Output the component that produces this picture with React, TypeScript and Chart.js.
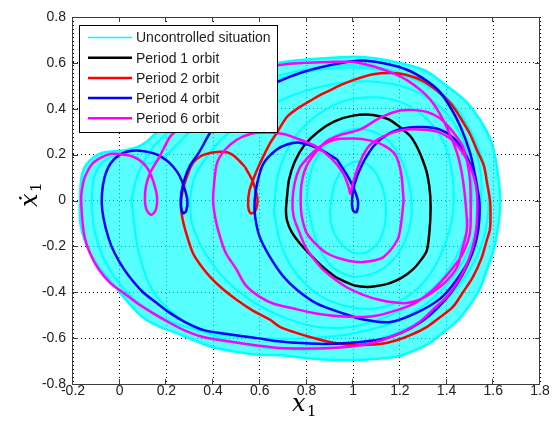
import React, { useEffect, useRef } from 'react';
import { Chart, registerables } from 'chart.js';

Chart.register(...registerables);

// ---- axis ticks ----
const xTickValues = [-0.2, 0, 0.2, 0.4, 0.6, 0.8, 1, 1.2, 1.4, 1.6, 1.8];
const yTickValues = [-0.8, -0.6, -0.4, -0.2, 0, 0.2, 0.4, 0.6, 0.8];

// ---- legend labels ----
const seriesLabels = ['Uncontrolled situation', 'Period 1 orbit', 'Period 2 orbit', 'Period 4 orbit', 'Period 6 orbit'];
const seriesColors = ['#00FFFF', '#000000', '#FF0000', '#0000FF', '#FF00FF'];

// ---- uncontrolled (chaotic) region: outer envelope ----
const chaosX = [-0.17, -0.168, -0.16, -0.14, -0.11, -0.07, -0.02, 0.03, 0.08, 0.12, 0.16, 0.22, 0.3, 0.4, 0.5, 0.6, 0.674, 0.8, 0.95, 1.05, 1.15, 1.3, 1.4, 1.49, 1.55, 1.59, 1.615, 1.63, 1.62, 1.6, 1.57, 1.54, 1.49, 1.44, 1.38, 1.33, 1.26, 1.19, 1.1, 1.02, 0.92, 0.83, 0.69, 0.59, 0.5, 0.4, 0.32, 0.245, 0.17, 0.1, 0.05, 0.0, -0.07, -0.11, -0.14, -0.16, -0.17, -0.17];
const chaosY = [0.0, 0.06, 0.12, 0.16, 0.19, 0.21, 0.215, 0.22, 0.235, 0.26, 0.3, 0.36, 0.42, 0.48, 0.54, 0.575, 0.6, 0.615, 0.625, 0.625, 0.61, 0.57, 0.5, 0.425, 0.34, 0.26, 0.15, 0.0, -0.12, -0.22, -0.31, -0.39, -0.47, -0.53, -0.58, -0.62, -0.655, -0.68, -0.69, -0.695, -0.695, -0.69, -0.675, -0.673, -0.66, -0.64, -0.61, -0.578, -0.55, -0.51, -0.46, -0.4, -0.315, -0.26, -0.2, -0.14, -0.085, 0.0];

// ---- uncontrolled trajectory: a few of its denser passes ----
const chaosLoop1X = [0.9, 0.92, 0.97, 1.03, 1.09, 1.13, 1.14, 1.12, 1.07, 1.01, 0.95, 0.91, 0.9];
const chaosLoop1Y = [-0.05, 0.07, 0.15, 0.17, 0.13, 0.04, -0.06, -0.16, -0.22, -0.23, -0.19, -0.12, -0.05];
const chaosLoop2X = [0.8, 0.82, 0.88, 0.96, 1.05, 1.14, 1.2, 1.24, 1.25, 1.22, 1.16, 1.08, 0.99, 0.9, 0.84, 0.8];
const chaosLoop2Y = [0.0, 0.13, 0.24, 0.3, 0.31, 0.27, 0.19, 0.07, -0.06, -0.18, -0.27, -0.32, -0.33, -0.28, -0.17, 0.0];
const chaosLoop3X = [0.66, 0.68, 0.74, 0.83, 0.95, 1.08, 1.2, 1.3, 1.38, 1.42, 1.43, 1.4, 1.33, 1.23, 1.1, 0.97, 0.85, 0.75, 0.69, 0.66];
const chaosLoop3Y = [-0.05, 0.12, 0.26, 0.36, 0.43, 0.45, 0.43, 0.37, 0.27, 0.14, -0.02, -0.17, -0.32, -0.42, -0.47, -0.46, -0.41, -0.31, -0.19, -0.05];
const chaosLoop4X = [0.05, 0.08, 0.15, 0.25, 0.4, 0.55, 0.7, 0.85, 1.0, 1.15, 1.3, 1.42, 1.5, 1.56, 1.58, 1.56, 1.5, 1.4, 1.28, 1.12, 0.95, 0.75, 0.55, 0.38, 0.24, 0.14, 0.08, 0.05];
const chaosLoop4Y = [0.0, 0.12, 0.24, 0.33, 0.43, 0.5, 0.55, 0.58, 0.59, 0.57, 0.52, 0.43, 0.31, 0.16, 0.0, -0.16, -0.3, -0.43, -0.53, -0.6, -0.64, -0.65, -0.63, -0.58, -0.5, -0.39, -0.22, 0.0];
const chaosLoop5X = [-0.12, -0.11, -0.07, 0.0, 0.07, 0.12, 0.2, 0.3, 0.45, 0.6, 0.8, 1.0, 1.2, 1.35, 1.45, 1.52, 1.55, 1.52, 1.45, 1.35, 1.2, 1.0, 0.8, 0.6, 0.4, 0.2, 0.05, -0.06, -0.11, -0.12];
const chaosLoop5Y = [0.0, 0.1, 0.17, 0.2, 0.19, 0.16, 0.2, 0.3, 0.42, 0.5, 0.56, 0.58, 0.55, 0.48, 0.38, 0.24, 0.05, -0.15, -0.3, -0.42, -0.52, -0.58, -0.6, -0.6, -0.58, -0.52, -0.42, -0.27, -0.12, 0.0];
const chaosLoop6X = [0.3, 0.32, 0.38, 0.46, 0.58, 0.72, 0.88, 1.04, 1.2, 1.33, 1.43, 1.49, 1.51, 1.48, 1.41, 1.3, 1.16, 1.0, 0.84, 0.68, 0.54, 0.43, 0.35, 0.31, 0.3];
const chaosLoop6Y = [0.0, 0.1, 0.2, 0.29, 0.38, 0.45, 0.5, 0.52, 0.5, 0.44, 0.34, 0.2, 0.02, -0.15, -0.3, -0.42, -0.5, -0.55, -0.55, -0.5, -0.42, -0.32, -0.2, -0.1, 0.0];

// ---- period 1 orbit ----
const period1X = [0.715, 0.725, 0.75, 0.79, 0.85, 0.92, 1.0, 1.085, 1.15, 1.2, 1.245, 1.275, 1.3, 1.318, 1.33, 1.33, 1.316, 1.29, 1.256, 1.21, 1.157, 1.1, 1.06, 1.01, 0.97, 0.92, 0.87, 0.82, 0.77, 0.735, 0.716, 0.712, 0.715];
const period1Y = [0.0, 0.09, 0.17, 0.24, 0.3, 0.345, 0.37, 0.373, 0.355, 0.32, 0.28, 0.23, 0.17, 0.11, 0.02, -0.085, -0.216, -0.26, -0.3, -0.335, -0.36, -0.373, -0.377, -0.372, -0.356, -0.33, -0.29, -0.24, -0.185, -0.135, -0.085, -0.04, 0.0];

// ---- period 2 orbit ----
const period2X = [0.537, 0.567, 0.586, 0.59, 0.578, 0.56, 0.55, 0.555, 0.575, 0.6, 0.644, 0.67, 0.716, 0.76, 0.8, 0.85, 0.9, 0.95, 1.0, 1.085, 1.16, 1.23, 1.3, 1.37, 1.42, 1.457, 1.5, 1.53, 1.56, 1.573, 1.586, 1.588, 1.585, 1.573, 1.55, 1.513, 1.47, 1.427, 1.37, 1.316, 1.25, 1.19, 1.12, 1.04, 0.97, 0.9, 0.815, 0.75, 0.686, 0.644, 0.57, 0.502, 0.44, 0.387, 0.345, 0.314, 0.29, 0.27, 0.262, 0.27, 0.29, 0.314, 0.35, 0.387, 0.43, 0.46, 0.485, 0.515, 0.537];
const period2Y = [0.146, 0.09, 0.03, -0.01, -0.05, -0.055, -0.02, 0.04, 0.1, 0.16, 0.25, 0.29, 0.364, 0.4, 0.425, 0.455, 0.48, 0.505, 0.525, 0.55, 0.556, 0.547, 0.52, 0.47, 0.42, 0.364, 0.29, 0.22, 0.15, 0.077, 0.0, -0.085, -0.13, -0.17, -0.25, -0.333, -0.4, -0.464, -0.51, -0.551, -0.585, -0.608, -0.625, -0.63, -0.628, -0.617, -0.595, -0.575, -0.551, -0.52, -0.48, -0.434, -0.385, -0.333, -0.28, -0.23, -0.16, -0.085, -0.02, 0.045, 0.11, 0.164, 0.195, 0.207, 0.212, 0.21, 0.198, 0.17, 0.146];

// ---- period 4 orbit ----
const period4X = [0.93, 0.985, 1.02, 1.015, 1.0, 0.995, 1.005, 1.04, 1.09, 1.15, 1.22, 1.3, 1.37, 1.427, 1.47, 1.5, 1.525, 1.54, 1.54, 1.53, 1.51, 1.47, 1.42, 1.36, 1.29, 1.21, 1.12, 0.99, 0.85, 0.69, 0.59, 0.46, 0.36, 0.28, 0.215, 0.15, 0.1, 0.04, 0.0, -0.035, -0.06, -0.075, -0.076, -0.065, -0.04, 0.0, 0.04, 0.074, 0.12, 0.16, 0.2, 0.23, 0.255, 0.275, 0.29, 0.285, 0.272, 0.262, 0.265, 0.28, 0.3, 0.34, 0.395, 0.47, 0.57, 0.674, 0.785, 0.9, 1.03, 1.13, 1.23, 1.31, 1.37, 1.42, 1.46, 1.5, 1.52, 1.535, 1.535, 1.525, 1.5, 1.44, 1.37, 1.27, 1.16, 1.05, 0.95, 0.845, 0.76, 0.7, 0.64, 0.6, 0.58, 0.578, 0.59, 0.615, 0.67, 0.72, 0.77, 0.845, 0.93];
const period4Y = [0.18, 0.09, 0.0, -0.05, -0.045, 0.0, 0.07, 0.16, 0.24, 0.29, 0.315, 0.32, 0.31, 0.275, 0.22, 0.16, 0.08, 0.0, -0.085, -0.16, -0.23, -0.32, -0.4, -0.47, -0.53, -0.575, -0.605, -0.62, -0.625, -0.615, -0.6, -0.582, -0.565, -0.53, -0.49, -0.44, -0.4, -0.33, -0.27, -0.2, -0.12, -0.04, 0.03, 0.1, 0.16, 0.2, 0.215, 0.218, 0.212, 0.2, 0.175, 0.146, 0.11, 0.06, 0.0, -0.045, -0.055, -0.02, 0.04, 0.1, 0.15, 0.21, 0.307, 0.39, 0.46, 0.516, 0.56, 0.59, 0.61, 0.598, 0.57, 0.525, 0.475, 0.4, 0.32, 0.21, 0.12, 0.03, -0.07, -0.15, -0.25, -0.35, -0.43, -0.49, -0.53, -0.52, -0.49, -0.45, -0.39, -0.33, -0.24, -0.16, -0.07, 0.0, 0.08, 0.16, 0.22, 0.245, 0.252, 0.23, 0.18];

// ---- period 6 orbit ----
const period6X = [1.216, 1.205, 1.19, 1.13, 1.07, 1.016, 0.95, 0.888, 0.84, 0.8, 0.78, 0.775, 0.78, 0.8, 0.84, 0.888, 0.943, 1.03, 1.115, 1.2, 1.26, 1.316, 1.37, 1.41, 1.445, 1.47, 1.49, 1.5, 1.503, 1.5, 1.47, 1.43, 1.38, 1.33, 1.26, 1.19, 1.11, 1.04, 0.94, 0.83, 0.74, 0.66, 0.6, 0.54, 0.5, 0.455, 0.43, 0.41, 0.4, 0.405, 0.417, 0.45, 0.5, 0.56, 0.63, 0.7, 0.76, 0.845, 0.91, 0.956, 0.98, 0.988, 1.0, 1.03, 1.07, 1.13, 1.2, 1.28, 1.36, 1.427, 1.48, 1.515, 1.53, 1.53, 1.52, 1.49, 1.45, 1.4, 1.34, 1.29, 1.23, 1.16, 1.085, 1.0, 0.9, 0.8, 0.686, 0.588, 0.47, 0.357, 0.28, 0.215, 0.14, 0.074, 0.02, -0.04, -0.09, -0.127, -0.15, -0.16, -0.165, -0.158, -0.15, -0.125, -0.097, -0.04, 0.03, 0.07, 0.1, 0.125, 0.145, 0.16, 0.155, 0.135, 0.115, 0.108, 0.112, 0.13, 0.17, 0.215, 0.245, 0.32, 0.42, 0.53, 0.6, 0.674, 0.785, 0.9, 1.0, 1.085, 1.17, 1.23, 1.29, 1.33, 1.37, 1.4, 1.445, 1.47, 1.487, 1.485, 1.465, 1.445, 1.4, 1.34, 1.29, 1.23, 1.18, 1.115, 1.04, 0.97, 0.91, 0.86, 0.8, 0.77, 0.745, 0.74, 0.75, 0.77, 0.8, 0.85, 0.92, 1.0, 1.07, 1.13, 1.18, 1.205, 1.216];
const period6Y = [0.0, -0.1, -0.17, -0.246, -0.265, -0.268, -0.255, -0.23, -0.19, -0.14, -0.07, 0.0, 0.08, 0.15, 0.21, 0.26, 0.285, 0.31, 0.36, 0.392, 0.394, 0.386, 0.36, 0.32, 0.275, 0.233, 0.16, 0.09, 0.0, -0.14, -0.23, -0.29, -0.35, -0.4, -0.45, -0.477, -0.5, -0.508, -0.505, -0.49, -0.47, -0.45, -0.42, -0.37, -0.3, -0.23, -0.16, -0.08, 0.0, 0.08, 0.164, 0.22, 0.264, 0.29, 0.296, 0.29, 0.27, 0.233, 0.18, 0.12, 0.06, 0.03, 0.08, 0.17, 0.24, 0.28, 0.305, 0.31, 0.3, 0.26, 0.19, 0.11, 0.03, -0.085, -0.17, -0.27, -0.35, -0.42, -0.477, -0.525, -0.564, -0.595, -0.62, -0.635, -0.643, -0.645, -0.643, -0.632, -0.615, -0.595, -0.567, -0.534, -0.49, -0.447, -0.405, -0.36, -0.3, -0.23, -0.16, -0.085, 0.015, 0.07, 0.1, 0.15, 0.177, 0.203, 0.198, 0.185, 0.163, 0.13, 0.08, 0.015, -0.04, -0.063, -0.04, 0.0, 0.06, 0.12, 0.19, 0.277, 0.307, 0.39, 0.475, 0.54, 0.57, 0.59, 0.6, 0.604, 0.604, 0.585, 0.555, 0.525, 0.48, 0.44, 0.38, 0.32, 0.207, 0.09, -0.085, -0.14, -0.22, -0.29, -0.35, -0.4, -0.43, -0.447, -0.445, -0.434, -0.41, -0.377, -0.335, -0.29, -0.21, -0.14, -0.07, 0.0, 0.08, 0.14, 0.18, 0.23, 0.265, 0.27, 0.262, 0.24, 0.2, 0.12, 0.0];

const chaosLoops: [number[], number[]][] = [
  [chaosLoop1X, chaosLoop1Y],
  [chaosLoop2X, chaosLoop2Y],
  [chaosLoop3X, chaosLoop3Y],
  [chaosLoop4X, chaosLoop4Y],
  [chaosLoop5X, chaosLoop5Y],
  [chaosLoop6X, chaosLoop6Y],
];

const toPoints = (xs: number[], ys: number[]) => xs.map((x, i) => ({ x, y: ys[i] }));
const fmt = (v: number) => String(Math.round(v * 10) / 10);

const TICK_FONT = { family: '"Liberation Sans", Arial, sans-serif', size: 14 };

const framePlugin = {
  id: 'matlabFrame',
  afterDatasetsDraw(chart: any) {
    const { ctx, chartArea, scales } = chart;
    const { left, top, right, bottom } = chartArea;
    ctx.save();
    ctx.strokeStyle = '#3c3c3c';
    ctx.lineWidth = 1;
    ctx.setLineDash([]);
    ctx.beginPath();
    const tl = 5;
    xTickValues.forEach((v) => {
      const p = Math.round(scales.x.getPixelForValue(v)) - 0.5;
      ctx.moveTo(p, bottom);
      ctx.lineTo(p, bottom - tl);
      ctx.moveTo(p, top);
      ctx.lineTo(p, top + tl);
    });
    yTickValues.forEach((v) => {
      const p = Math.round(scales.y.getPixelForValue(v)) + 0.5;
      ctx.moveTo(left, p);
      ctx.lineTo(left + tl, p);
      ctx.moveTo(right, p);
      ctx.lineTo(right - tl, p);
    });
    ctx.stroke();
    ctx.strokeRect(left - 0.5, top + 0.5, right - left, bottom - top);
    ctx.restore();
  },
  afterDraw(chart: any) {
    const { ctx } = chart;
    ctx.save();
    // legend box
    const bx = 79.5, by = 25.5, bw = 198, bh = 107;
    ctx.fillStyle = '#ffffff';
    ctx.fillRect(bx, by, bw, bh);
    ctx.strokeStyle = '#000000';
    ctx.lineWidth = 1;
    ctx.strokeRect(bx, by, bw, bh);
    ctx.font = '14px "Liberation Sans", Arial, sans-serif';
    ctx.textBaseline = 'middle';
    ctx.textAlign = 'left';
    seriesLabels.forEach((label, i) => {
      const cy = 37.5 + i * 20.2;
      ctx.strokeStyle = seriesColors[i];
      ctx.lineWidth = i === 0 ? 1.5 : 2.5;
      ctx.beginPath();
      ctx.moveTo(88, cy);
      ctx.lineTo(132, cy);
      ctx.stroke();
      ctx.fillStyle = '#222222';
      ctx.fillText(label, 136, cy + 1);
    });
    // x axis title
    ctx.fillStyle = '#000000';
    ctx.textBaseline = 'alphabetic';
    ctx.font = 'italic 24px "DejaVu Serif", serif';
    ctx.fillText('x', 292, 411);
    ctx.font = '15px "DejaVu Serif", serif';
    ctx.fillText('1', 307, 416);
    // y axis title (rotated)
    ctx.translate(37, 207);
    ctx.rotate(-Math.PI / 2);
    ctx.font = 'italic 24px "DejaVu Serif", serif';
    ctx.fillText('x\u0307', 0, 0);
    ctx.font = '15px "DejaVu Serif", serif';
    ctx.fillText('1', 15, 4);
    ctx.restore();
  },
};

export default function App() {
  const canvasRef = useRef<HTMLCanvasElement | null>(null);

  useEffect(() => {
    const canvas = canvasRef.current;
    if (!canvas) return;
    const lineDs = (label: string, xs: number[], ys: number[], color: string, order: number, width = 2.5) => ({
      label,
      data: toPoints(xs, ys),
      showLine: true,
      borderColor: color,
      backgroundColor: color,
      borderWidth: width,
      pointRadius: 0,
      tension: 0.3,
      fill: false,
      order,
    });
    const chart = new Chart(canvas, {
      type: 'scatter',
      data: {
        datasets: [
          {
            label: seriesLabels[0],
            data: toPoints(chaosX, chaosY),
            showLine: true,
            borderColor: '#00FFFF',
            backgroundColor: 'rgba(0,255,255,0.66)',
            borderWidth: 2.5,
            pointRadius: 0,
            tension: 0.3,
            fill: 'shape',
            order: 10,
          } as any,
          ...chaosLoops.map(([xs, ys]) => lineDs(seriesLabels[0], xs, ys, '#00FFFF', 9, 2)),
          lineDs(seriesLabels[1], period1X, period1Y, seriesColors[1], 4),
          lineDs(seriesLabels[2], period2X, period2Y, seriesColors[2], 3),
          lineDs(seriesLabels[3], period4X, period4Y, seriesColors[3], 2),
          lineDs(seriesLabels[4], period6X, period6Y, seriesColors[4], 1),
        ],
      },
      options: {
        responsive: false,
        devicePixelRatio: 1,
        animation: false,
        events: [],
        layout: { padding: { top: 17, right: 13, left: 0, bottom: 0 } },
        plugins: { legend: { display: false }, tooltip: { enabled: false } },
        scales: {
          x: {
            type: 'linear',
            min: -0.2,
            max: 1.8,
            afterBuildTicks: (s: any) => {
              s.ticks = xTickValues.map((v) => ({ value: v }));
            },
            afterFit: (s: any) => {
              s.height = 43;
            },
            grid: { color: '#000000', lineWidth: 1, drawTicks: false },
            border: { display: false, dash: [1, 3] },
            ticks: {
              font: TICK_FONT,
              color: '#222222',
              padding: -1,
              maxRotation: 0,
              autoSkip: false,
              callback: (v: any) => fmt(Number(v)),
            },
          },
          y: {
            type: 'linear',
            min: -0.8,
            max: 0.8,
            afterBuildTicks: (s: any) => {
              s.ticks = yTickValues.map((v) => ({ value: v }));
            },
            afterFit: (s: any) => {
              s.width = 73;
            },
            grid: { color: '#000000', lineWidth: 1, drawTicks: false },
            border: { display: false, dash: [1, 3] },
            ticks: {
              font: TICK_FONT,
              color: '#222222',
              padding: 7,
              autoSkip: false,
              callback: (v: any) => fmt(Number(v)),
            },
          },
        },
      } as any,
      plugins: [framePlugin],
    });
    return () => chart.destroy();
  }, []);

  return (
    <div style={{ position: 'fixed', left: 0, top: 0, width: 553, height: 427, background: '#fff' }}>
      <canvas ref={canvasRef} width={553} height={427} style={{ width: 553, height: 427 }} />
    </div>
  );
}
